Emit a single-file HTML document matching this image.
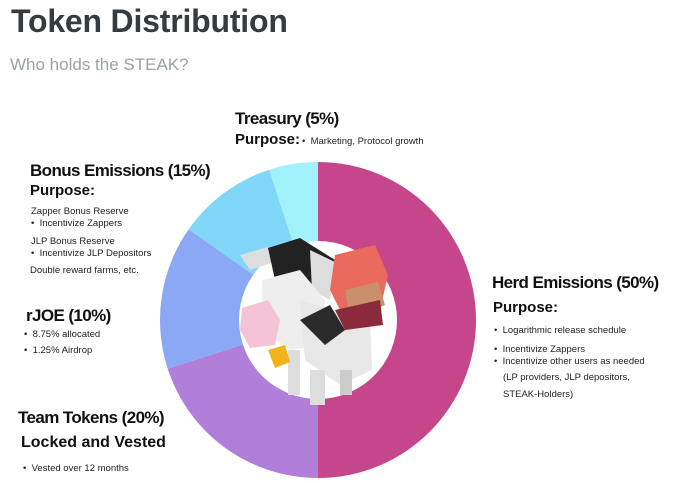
<!DOCTYPE html>
<html><head><meta charset="utf-8"><style>
html,body{margin:0;padding:0;background:#fff;}
body{width:680px;height:483px;position:relative;overflow:hidden;font-family:"Liberation Sans",sans-serif;}
.t{position:absolute;white-space:nowrap;color:#111;}
.h{font-weight:bold;font-size:17px;letter-spacing:-0.6px;}
.p{font-weight:bold;font-size:15px;}
.s{font-size:9.5px;color:#222;}
</style></head><body>
<svg width="680" height="483" style="position:absolute;left:0;top:0">
<path d="M318 320 L318 162 A158 158 0 0 1 318 478 Z" fill="#c5468b"/>
<path d="M318 320 L318 478 A158 158 0 0 1 167.7 368.8 Z" fill="#b17fd9"/>
<path d="M318 320 L167.7 368.8 A158 158 0 0 1 188.6 229.4 Z" fill="#8ba8f4"/>
<path d="M318 320 L188.6 229.4 A158 158 0 0 1 269.2 169.7 Z" fill="#80d7f7"/>
<path d="M318 320 L269.2 169.7 A158 158 0 0 1 318 162 Z" fill="#a2f2fb"/>
<circle cx="318" cy="320" r="79" fill="#fff"/>
<polygon points="240,255 268,247 275,262 250,270" fill="#ddd"/>
<polygon points="268,248 300,238 335,260 330,290 300,300 275,280" fill="#222"/>
<polygon points="310,250 335,262 330,300 312,290" fill="#ddd"/>
<polygon points="262,280 300,270 325,300 322,345 290,350 262,330" fill="#eee"/>
<polygon points="242,308 268,300 280,320 275,345 250,348 240,330" fill="#f4c4d6"/>
<polygon points="300,300 370,320 372,370 340,385 305,360" fill="#e8e8e8"/>
<polygon points="300,320 330,305 345,330 325,345" fill="#2a2a2a"/>
<polygon points="288,350 300,350 300,395 288,395" fill="#ddd"/>
<polygon points="310,370 325,370 325,405 310,405" fill="#ddd"/>
<polygon points="340,370 352,370 352,395 340,395" fill="#ccc"/>
<polygon points="268,350 285,345 290,362 275,368" fill="#f2b21c"/>
<polygon points="335,255 375,245 388,275 380,310 345,320 330,290" fill="#ea6a5e"/>
<polygon points="345,290 378,282 385,305 350,318" fill="#c9906e"/>
<polygon points="335,310 380,300 383,325 345,330" fill="#8b2a3a"/>
</svg>
<div class="t" style="left:11px;top:3px;font-size:32px;font-weight:bold;color:#363b40;letter-spacing:-0.2px">Token Distribution</div>
<div class="t" style="left:10px;top:55px;font-size:17px;color:#98a2aa">Who holds the STEAK?</div>

<div class="t h" style="left:235px;top:109px">Treasury (5%)</div>
<div class="t p" style="left:235px;top:131px">Purpose:</div>
<div class="t s" style="left:302px;top:136px">•&nbsp; Marketing, Protocol growth</div>

<div class="t h" style="left:30px;top:161px">Bonus Emissions (15%)</div>
<div class="t p" style="left:30px;top:182px">Purpose:</div>
<div class="t s" style="left:31px;top:206px">Zapper Bonus Reserve</div>
<div class="t s" style="left:31px;top:218px">•&nbsp; Incentivize Zappers</div>
<div class="t s" style="left:31px;top:236px">JLP Bonus Reserve</div>
<div class="t s" style="left:31px;top:248px">•&nbsp; Incentivize JLP Depositors</div>
<div class="t s" style="left:30px;top:265px">Double reward farms, etc.</div>

<div class="t h" style="left:26px;top:306px">rJOE (10%)</div>
<div class="t s" style="left:24px;top:329px">•&nbsp; 8.75% allocated</div>
<div class="t s" style="left:24px;top:345px">•&nbsp; 1.25% Airdrop</div>

<div class="t h" style="left:18px;top:408px">Team Tokens (20%)</div>
<div class="t" style="left:21px;top:434px;font-weight:bold;font-size:16px">Locked and Vested</div>
<div class="t s" style="left:23px;top:463px">•&nbsp; Vested over 12 months</div>

<div class="t h" style="left:492px;top:273px">Herd Emissions (50%)</div>
<div class="t p" style="left:493px;top:299px">Purpose:</div>
<div class="t s" style="left:494px;top:325px">•&nbsp; Logarithmic release schedule</div>
<div class="t s" style="left:494px;top:344px">•&nbsp; Incentivize Zappers</div>
<div class="t s" style="left:494px;top:356px">•&nbsp; Incentivize other users as needed</div>
<div class="t s" style="left:503px;top:372px">(LP providers, JLP depositors,</div>
<div class="t s" style="left:503px;top:389px">STEAK-Holders)</div>
</body></html>
